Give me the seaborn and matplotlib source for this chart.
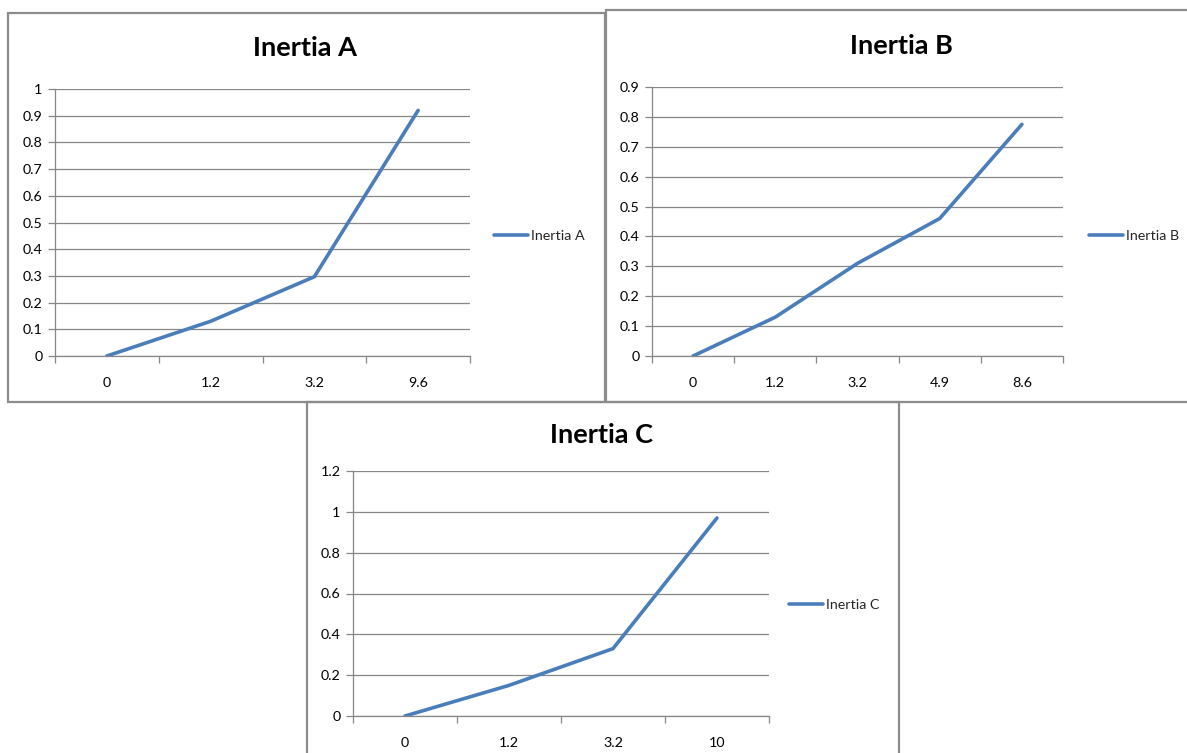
import numpy as np
import pandas as pd
import matplotlib
matplotlib.use("Agg")
import matplotlib.pyplot as plt
from matplotlib.patches import Rectangle
from matplotlib.ticker import FixedLocator, NullFormatter
import seaborn as sns

# Inertia measurements for the three setups
cats_a = ["0", "1.2", "3.2", "9.6"]
vals_a = [0.0, 0.13, 0.297, 0.92]

cats_b = ["0", "1.2", "3.2", "4.9", "8.6"]
vals_b = [0.0, 0.13, 0.31, 0.46, 0.775]

cats_c = ["0", "1.2", "3.2", "10"]
vals_c = [0.0, 0.15, 0.33, 0.97]

sns.set_theme(style="white")
plt.rcParams["font.family"] = ["Lato", "DejaVu Sans"]

W, H = 1187, 753
fig = plt.figure(figsize=(W / 100, H / 100), dpi=100)
fig.patch.set_facecolor("white")

LINE = "#4A7EBB"
GRID = "#878787"
TXT = "#000000"
TICK_FS = 10.3
TITLE_FS = 19.5


def px_axes(left, top, right, bottom):
    return fig.add_axes([left / W, 1 - bottom / H, (right - left) / W, (bottom - top) / H])


def frame(left, top, right, bottom):
    fig.patches.append(Rectangle((left / W, 1 - bottom / H), (right - left) / W, (bottom - top) / H,
                                 transform=fig.transFigure, fill=False,
                                 edgecolor="#8c8c8c", linewidth=1.6, zorder=0))


def chart(name, cats, vals, box, plot, ymax, ystep, title_xy, legend_xy):
    frame(*box)
    ax = px_axes(*plot)
    df = pd.DataFrame({"pos": np.arange(len(cats)), "value": vals})
    sns.lineplot(data=df, x="pos", y="value", ax=ax, color=LINE, linewidth=2.6,
                 label=name, solid_joinstyle="miter")
    n = len(cats)
    ax.set_xlim(-0.5, n - 0.5)
    ax.set_ylim(0, ymax)
    yt = np.round(np.arange(0, ymax + 1e-9, ystep), 3)
    ax.set_yticks(yt)
    ax.set_yticklabels([f"{v:g}" for v in yt], fontsize=TICK_FS, color=TXT)
    ax.set_xticks(np.arange(n))
    ax.set_xticklabels(cats, fontsize=TICK_FS, color=TXT)
    ax.xaxis.set_minor_locator(FixedLocator(np.arange(n + 1) - 0.5))
    ax.xaxis.set_minor_formatter(NullFormatter())
    ax.tick_params(axis="x", which="major", length=0, pad=15)
    ax.tick_params(axis="x", which="minor", length=5, width=0.9, color=GRID, direction="out")
    ax.tick_params(axis="y", which="major", length=5, width=0.9, color=GRID, direction="out", pad=4)
    ax.tick_params(left=True, bottom=True, which="both")
    ax.grid(axis="y", color=GRID, linewidth=0.9)
    ax.grid(axis="x", visible=False)
    for s in ["top", "right"]:
        ax.spines[s].set_visible(False)
    for s in ["left", "bottom"]:
        ax.spines[s].set_color(GRID)
        ax.spines[s].set_linewidth(0.9)
    ax.set_xlabel("")
    ax.set_ylabel("")
    ax.set_facecolor("none")
    ax.set_axisbelow(True)
    fig.text(title_xy[0] / W, 1 - title_xy[1] / H, name, ha="center", va="center",
             fontsize=TITLE_FS, fontweight="bold", color=TXT)
    lx = (legend_xy[0] - plot[0]) / (plot[2] - plot[0])
    ly = (plot[3] - legend_xy[1]) / (plot[3] - plot[1])
    ax.legend(loc="center left", bbox_to_anchor=(lx, ly), frameon=False, fontsize=TICK_FS,
              handlelength=2.4, handletextpad=0.2, borderaxespad=0, borderpad=0)
    return ax


chart("Inertia A", cats_a, vals_a, (8, 13, 605, 402), (55, 89, 470, 356), 1.0, 0.1,
      (305, 48), (494, 236))
chart("Inertia B", cats_b, vals_b, (606, 10, 1195, 402), (652, 87, 1063, 356), 0.9, 0.1,
      (901, 46), (1089, 236))
chart("Inertia C", cats_c, vals_c, (307, 402, 899, 760), (353, 471, 769, 716), 1.2, 0.2,
      (602, 435), (789, 605))

fig.savefig("out.png", dpi=100, facecolor="white")
